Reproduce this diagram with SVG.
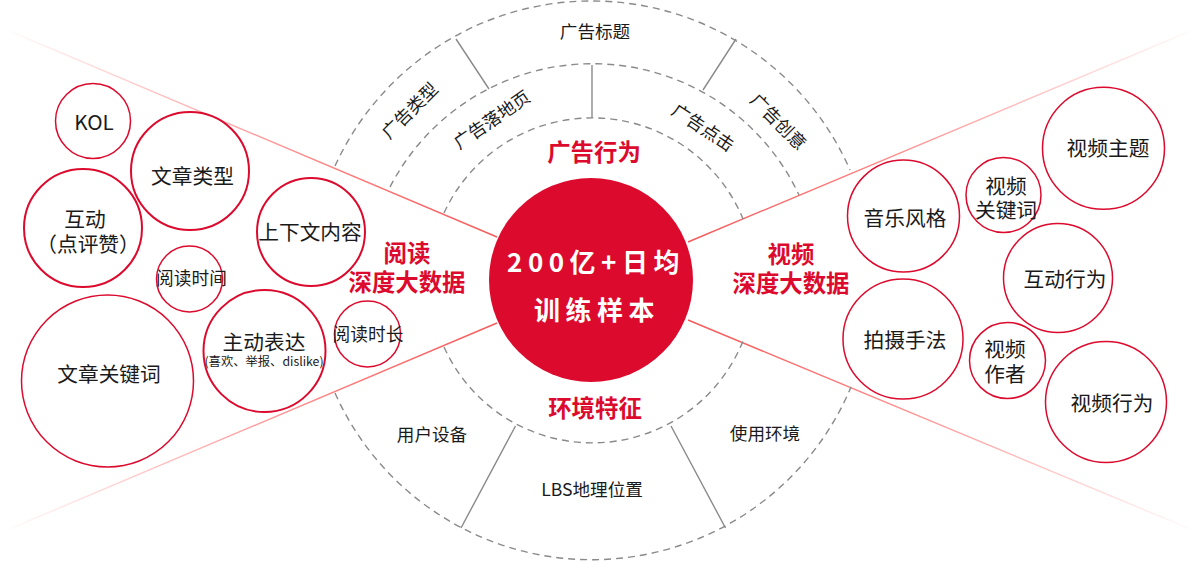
<svg xmlns="http://www.w3.org/2000/svg" width="1200" height="561" viewBox="0 0 1200 561">
<style>
text{font-family:"Noto Sans CJK SC","Noto Sans",sans-serif;text-anchor:middle;fill:#1a1a1a}
.n{font-size:20.700px}
.s{font-size:17.700px}
.xs{font-size:12.300px}
.m{font-size:17.600px}
.h{font-size:23.400px;font-weight:700;fill:#dc0a2d}
.c{font-size:26px;font-weight:700;fill:#fff;letter-spacing:5.500px}
.b{fill:#fff;stroke:#dc0a2d;stroke-width:1.5}
.b2{fill:#fff;stroke:#dc0a2d;stroke-width:2}
.d{fill:none;stroke:#8a8a8a;stroke-width:1.4;stroke-dasharray:7 5}
.l{stroke:#8a8a8a;stroke-width:1.4}
</style>
<defs>
<linearGradient id="g1" gradientUnits="userSpaceOnUse" x1="0" y1="27" x2="497" y2="237"><stop offset="0" stop-color="#ff6a6a" stop-opacity="0"/><stop offset="0.7" stop-color="#ff6a6a" stop-opacity="0.9"/><stop offset="1" stop-color="#f45a5a"/></linearGradient>
<linearGradient id="g2" gradientUnits="userSpaceOnUse" x1="1200" y1="27" x2="688" y2="242"><stop offset="0" stop-color="#ff6a6a" stop-opacity="0"/><stop offset="0.7" stop-color="#ff6a6a" stop-opacity="0.9"/><stop offset="1" stop-color="#f45a5a"/></linearGradient>
<linearGradient id="g3" gradientUnits="userSpaceOnUse" x1="0" y1="533" x2="497" y2="323"><stop offset="0" stop-color="#ff6a6a" stop-opacity="0"/><stop offset="0.7" stop-color="#ff6a6a" stop-opacity="0.9"/><stop offset="1" stop-color="#f45a5a"/></linearGradient>
<linearGradient id="g4" gradientUnits="userSpaceOnUse" x1="1200" y1="533" x2="688" y2="320"><stop offset="0" stop-color="#ff6a6a" stop-opacity="0"/><stop offset="0.7" stop-color="#ff6a6a" stop-opacity="0.9"/><stop offset="1" stop-color="#f45a5a"/></linearGradient>
</defs>
<rect width="1200" height="561" fill="#fff"/>
<g id="connectors">
<path d="M0 27L497 237" stroke="url(#g1)" stroke-width="1.4" fill="none"/>
<path d="M1200 27L688 242" stroke="url(#g2)" stroke-width="1.4" fill="none"/>
<path d="M0 533L497 323" stroke="url(#g3)" stroke-width="1.4" fill="none"/>
<path d="M1200 533L688 320" stroke="url(#g4)" stroke-width="1.4" fill="none"/>
<path class="d" d="M335 166A282 282 0 0 1 850 170"/>
<path class="d" d="M390 187A228 228 0 0 1 799 195"/>
<path class="d" d="M444 213A163 163 0 0 1 743 219"/>
<path class="d" d="M335 393A281 281 0 0 0 851 387"/>
<path class="d" d="M444 347A162.500 162.500 0 0 0 743 341"/>
<path class="l" d="M456 39L489 89M592 65V118M736 39L703 90M515.500 426L461 528M671 426L725.500 528"/>
</g>
<g id="center"><circle cx="591" cy="280" r="102" fill="#dc0a2d"/>
<text class="c" x="596" y="272">200亿+日均</text><text class="c" x="597" y="320">训练样本</text></g>
<g id="ad-behavior"><text class="h" x="594" y="161">广告行为</text></g>
<g id="env-feature"><text class="h" x="595" y="417">环境特征</text></g>
<g id="read-data"><text class="h" x="407" y="262">阅读</text><text class="h" x="407" y="291">深度大数据</text></g>
<g id="video-data"><text class="h" x="791" y="263">视频</text><text class="h" x="791" y="292">深度大数据</text></g>
<g id="ad-title"><text class="m" x="595" y="38">广告标题</text></g>
<g id="ad-type"><text class="m" transform="translate(410 111) rotate(-45)" y="6">广告类型</text></g>
<g id="ad-landing"><text class="m" transform="translate(492 120) rotate(-34.500)" y="6">广告落地页</text></g>
<g id="ad-click"><text class="m" transform="translate(703 128) rotate(33.500)" y="6">广告点击</text></g>
<g id="ad-creative"><text class="m" transform="translate(778 122) rotate(45)" y="6">广告创意</text></g>
<g id="device"><text class="m" x="432" y="441">用户设备</text></g>
<g id="usage-env"><text class="m" x="765" y="440">使用环境</text></g>
<g id="lbs"><text class="m" x="592" y="496">LBS地理位置</text></g>
<g id="kol"><circle class="b" cx="93" cy="121" r="37.500"/><text class="n" x="94" y="130">KOL</text></g>
<g id="article-type"><circle class="b2" cx="190" cy="171" r="59"/><text class="n" x="192.500" y="184">文章类型</text></g>
<g id="interact"><circle class="b2" cx="83" cy="228" r="59"/><text class="n" x="85" y="227">互动</text><text class="n" x="88" y="252">（点评赞）</text></g>
<g id="context"><circle class="b2" cx="311" cy="232" r="54"/><text class="n" x="310" y="240">上下文内容</text></g>
<g id="read-time"><circle class="b" cx="189.500" cy="279" r="33"/><text class="s" x="191.500" y="285">阅读时间</text></g>
<g id="keyword"><circle class="b" cx="107.500" cy="381" r="86"/><text class="n" x="109" y="382">文章关键词</text></g>
<g id="express"><circle class="b2" cx="264.500" cy="351" r="61"/><text class="n" x="264" y="350">主动表达</text><text class="xs" x="264" y="366">(喜欢、举报、dislike)</text></g>
<g id="read-dur"><circle class="b" cx="367.500" cy="334" r="33"/><text class="s" x="368" y="341">阅读时长</text></g>
<g id="video-topic"><circle class="b" cx="1103.500" cy="148.300" r="61"/><text class="n" x="1108" y="156">视频主题</text></g>
<g id="video-kw"><circle class="b" cx="1003.500" cy="195" r="37.500"/><text class="n" x="1006" y="194">视频</text><text class="n" x="1006" y="218">关键词</text></g>
<g id="music"><circle class="b" cx="903.500" cy="216" r="56"/><text class="n" x="905" y="226">音乐风格</text></g>
<g id="video-interact"><circle class="b" cx="1058" cy="278" r="54.500"/><text class="n" x="1065" y="287">互动行为</text></g>
<g id="shoot"><circle class="b" cx="903" cy="339" r="60"/><text class="n" x="905" y="348">拍摄手法</text></g>
<g id="video-author"><circle class="b" cx="1007.500" cy="360.500" r="38"/><text class="n" x="1005" y="357">视频</text><text class="n" x="1005" y="382">作者</text></g>
<g id="video-behavior"><circle class="b" cx="1106" cy="402" r="60.500"/><text class="n" x="1112" y="411">视频行为</text></g>
</svg>
